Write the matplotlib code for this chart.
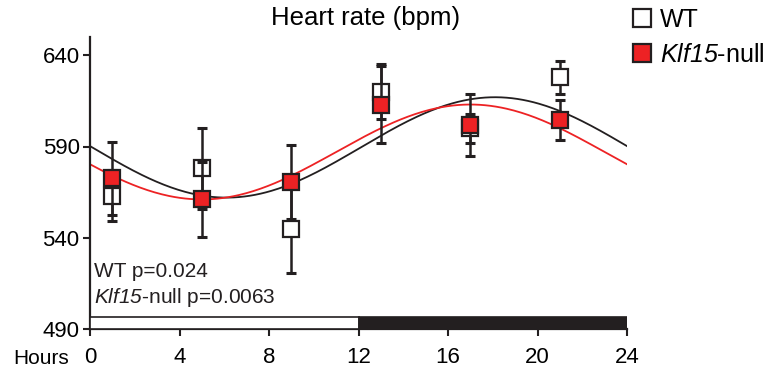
import numpy as np
import matplotlib
matplotlib.use("Agg")
import matplotlib.pyplot as plt
from matplotlib.lines import Line2D
from matplotlib.patches import Rectangle

plt.rcParams['font.family'] = ['Liberation Sans', 'DejaVu Sans']
# gene names in italics (digits included)
plt.rcParams['mathtext.fontset'] = 'custom'
plt.rcParams['mathtext.rm'] = 'Liberation Sans:italic'
plt.rcParams['mathtext.it'] = 'Liberation Sans:italic'

# sampling times (hours)
hours = [1, 5, 9, 13, 17, 21]

# heart rate, mean and error
wt_mean = [563, 578, 545, 620, 600, 628]
wt_err = [14, 22, 24.5, 15, 8, 9]
ko_mean = [572.5, 561, 570.5, 613, 602, 604.5]
ko_err = [20, 20.5, 20.5, 21, 17, 11]

# cosinor fits: mesor, amplitude, acrophase (h)
wt_fit = (589.5, 27.5, 18.1)
ko_fit = (587.0, 26.0, 17.0)

xticks = [0, 4, 8, 12, 16, 20, 24]
yticks = [490, 540, 590, 640]

BLACK = '#231f20'
RED = '#ed2224'


def cosinor(t, fit):
    m, a, phi = fit
    return m + a * np.cos(2 * np.pi * (t - phi) / 24)


fig = plt.figure(figsize=(7.68, 3.78), dpi=100)
ax = fig.add_axes([90 / 768, 1 - 329 / 378, 537 / 768, 292 / 378])

t = np.linspace(0, 24, 300)
ax.plot(t, cosinor(t, wt_fit), color=BLACK, lw=1.3, zorder=2)
ax.plot(t, cosinor(t, ko_fit), color=RED, lw=1.3, zorder=2)

ax.errorbar(hours, wt_mean, yerr=wt_err, fmt='none', ecolor=BLACK,
            elinewidth=1.8, capsize=3.5, capthick=2.2, zorder=3)
ax.plot(hours, wt_mean, 's', ms=12, mfc='white', mec=BLACK, mew=1.6, zorder=4)
ax.errorbar(hours, ko_mean, yerr=ko_err, fmt='none', ecolor=BLACK,
            elinewidth=1.8, capsize=3.5, capthick=2.2, zorder=5)
ax.plot(hours, ko_mean, 's', ms=12, mfc=RED, mec=BLACK, mew=1.6, zorder=6)

# light / dark bar
ax.add_patch(Rectangle((0, 490), 12, 6.5, fc='white', ec=BLACK, lw=1.2, zorder=3))
ax.add_patch(Rectangle((12, 490), 12, 6.5, fc=BLACK, ec=BLACK, lw=1.2, zorder=3))

ax.set_xlim(0, 24)
ax.set_ylim(490, 650)
ax.set_xticks(xticks)
ax.set_yticks(yticks)
ax.tick_params(labelsize=16, width=1.5, length=5, color=BLACK)
ax.tick_params(axis='x', pad=8)
ax.tick_params(axis='y', pad=2.5)
for s in ['top', 'right']:
    ax.spines[s].set_visible(False)
for s in ['left', 'bottom']:
    ax.spines[s].set_linewidth(1.6)
    ax.spines[s].set_color(BLACK)
ax.spines['left'].set_bounds(490, 650)

ax.text(0.2, 521.5, 'WT p=0.024', fontsize=15, va='center', ha='left', color=BLACK)
ax.text(0.2, 507, '$Klf15$-null p=0.0063', fontsize=15, va='center', ha='left', color=BLACK)

fig.text(366 / 768, 1 - 18 / 378, 'Heart rate (bpm)', fontsize=18.5, ha='center', va='center')
fig.text(13 / 768, 1 - 358 / 378, 'Hours', fontsize=15, ha='left', va='center')

handles = [
    Line2D([], [], ls='none', marker='s', ms=13, mfc='white', mec=BLACK, mew=1.6),
    Line2D([], [], ls='none', marker='s', ms=13, mfc=RED, mec=BLACK, mew=1.6),
]
fig.legend(handles, ['WT', '$Klf15$-null'], loc='upper left',
           bbox_to_anchor=(632 / 768, 1 - 8 / 378), frameon=False, fontsize=18,
           handlelength=0.8, handletextpad=0.3, labelspacing=0.42,
           borderaxespad=0, borderpad=0)

fig.savefig('out.png', dpi=100)
